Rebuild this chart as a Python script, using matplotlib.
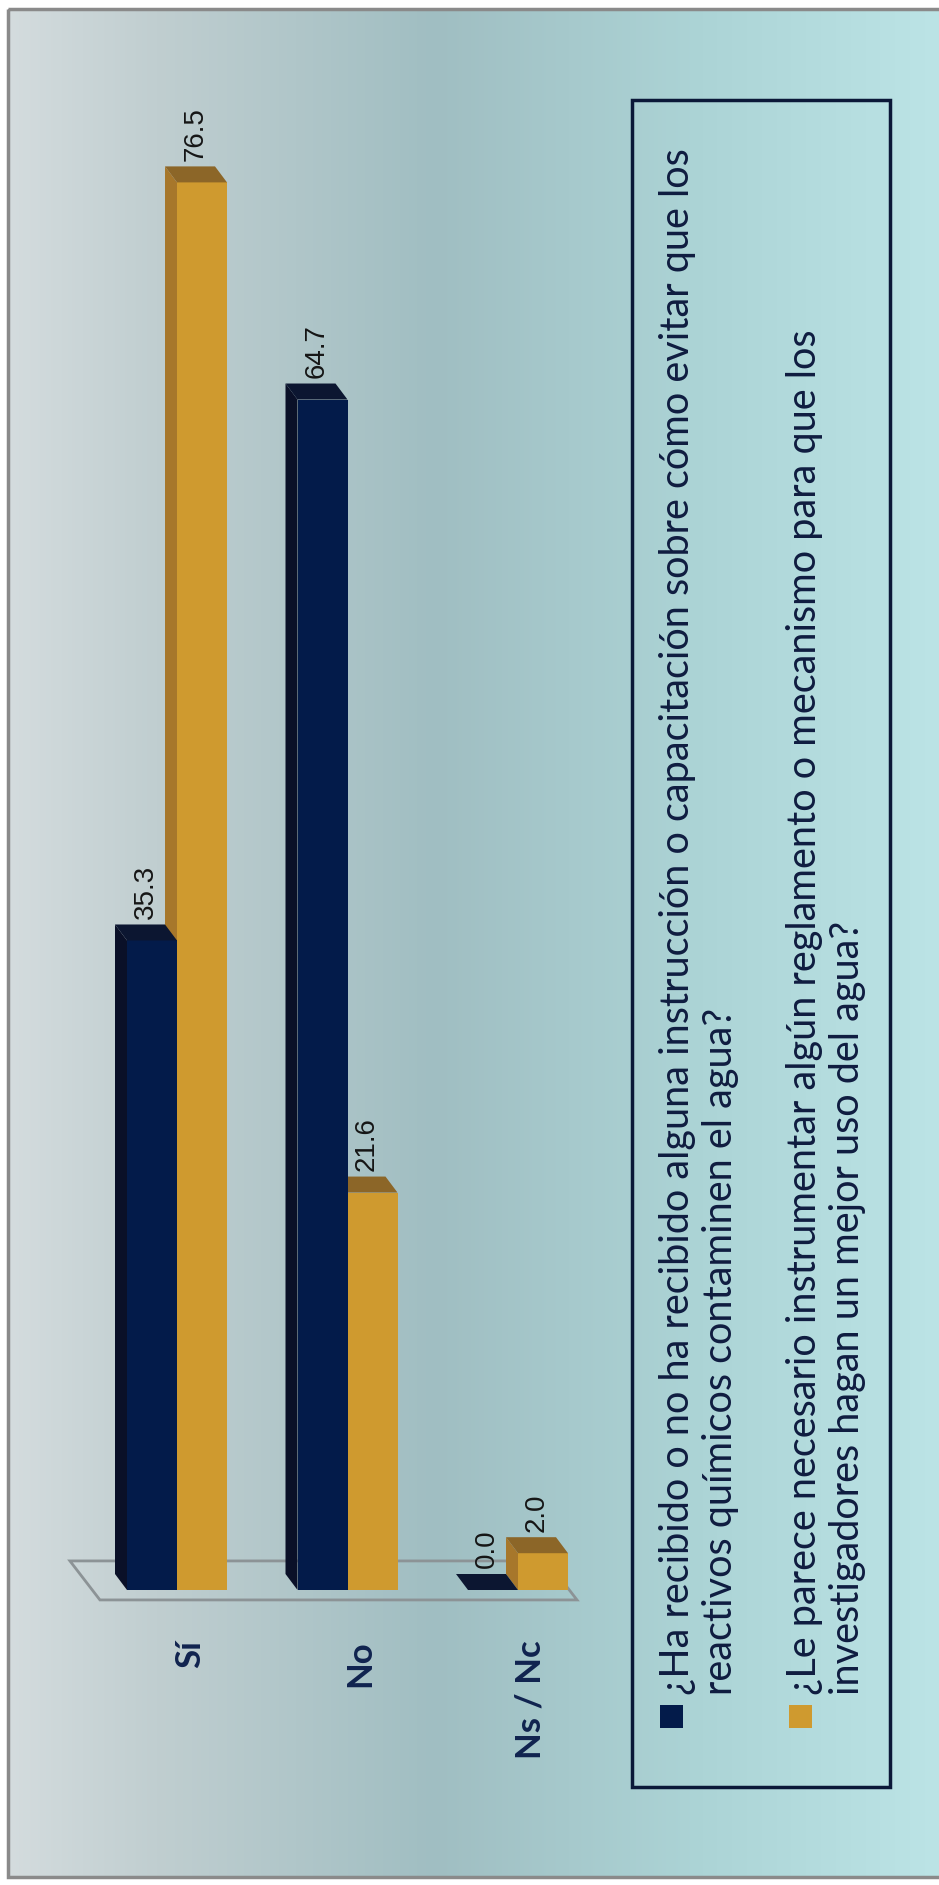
import numpy as np
import matplotlib.pyplot as plt
from matplotlib.patches import Polygon, Rectangle

# respuestas por categoria (%)
categorias = ['Sí', 'No', 'Ns / Nc']
capacitacion = [35.3, 64.7, 0.0]
reglamento = [76.5, 21.6, 2.0]
leyenda = [
    '¿Ha recibido o no ha recibido alguna instrucción o capacitación sobre cómo evitar que los\n'
    'reactivos químicos contaminen el agua?',
    '¿Le parece necesario instrumentar algún reglamento o mecanismo para que los\n'
    'investigadores hagan un mejor uso del agua?',
]

# colores: frente, lado, tapa
azul = ('#031b4a', '#0a1028', '#0c1631')
ocre = ('#cf9a2f', '#a7772b', '#8c6628')

W, H = 939, 1885
fig = plt.figure(figsize=(W / 100, H / 100), dpi=100)

# fondo con degradado y marco (coordenadas en pixeles)
bg = fig.add_axes([0, 0, 1, 1])
bg.set_xlim(0, W)
bg.set_ylim(H, 0)
bg.axis('off')
xs = np.arange(W)
px = [0, 150, 430, 700, W]
grad = np.stack([
    np.interp(xs, px, [212, 192, 160, 172, 188]),
    np.interp(xs, px, [220, 206, 190, 212, 228]),
    np.interp(xs, px, [222, 208, 194, 214, 230]),
], axis=-1)[None, :, :] / 255
bg.imshow(grad, extent=[8, W, 1877, 9], aspect='auto', zorder=0)
bg.add_patch(Rectangle((8, 9), W, 1868, fill=False, ec='#8a8a8a', lw=2.5, zorder=1))

# leyenda girada
bg.add_patch(Rectangle((632, 100), 258, 1687, fill=False, ec='#0b1838', lw=2.5, zorder=2))
for xc, xq, txt, col in [(699, 660, leyenda[0], azul[0]), (826, 789, leyenda[1], ocre[0])]:
    bg.add_patch(Rectangle((xq, 1705), 23, 23, fc=col, ec='none', zorder=2))
    bg.text(xc, 1695, txt, rotation=90, rotation_mode='anchor', ha='left', va='center',
            fontsize=28.5, linespacing=1.2, family='Lato', color='#0f1c40')

# ejes del grafico de barras
ax = fig.add_axes([0, 0, 1, 1])
ax.patch.set_alpha(0)
ax.axis('off')
ax.set_xlim(-177 / 170.5, (W - 177) / 170.5)
ax.set_ylim(-(H - 1590) / 18.4, 1590 / 18.4)

ANCHO = 50 / 170.5
DX, DY = -12 / 170.5, 16 / 18.4

# piso
ax.add_patch(Polygon([(-0.628, 1.58), (2.17, 1.58), (2.346, -0.54), (-0.452, -0.54)],
                     closed=True, fill=False, ec='#8c9396', lw=2, zorder=1))


def barra3d(x0, h, col, z):
    ax.bar(x0, h, width=ANCHO, align='edge', color=col[0], zorder=z)
    ax.add_patch(Polygon([(x0, 0), (x0, h), (x0 + DX, h + DY), (x0 + DX, DY)],
                         closed=True, fc=col[1], ec='none', zorder=z))
    ax.add_patch(Polygon([(x0, h), (x0 + ANCHO, h), (x0 + ANCHO + DX, h + DY), (x0 + DX, h + DY)],
                         closed=True, fc=col[2], ec='none', zorder=z))
    ax.text(x0 + ANCHO / 2 + DX / 2, h + DY + 0.3, f'{h:.1f}', rotation=90,
            ha='center', va='bottom', fontsize=20, family='Liberation Sans', color='#151515', zorder=10)


for i in range(len(categorias)):
    barra3d(i, reglamento[i], ocre, 3)
    barra3d(i - ANCHO, capacitacion[i], azul, 4)
    ax.text(i + 0.076, -2.72, categorias[i], rotation=90, ha='center', va='top',
            fontsize=25, fontweight='bold', family='Lato', color='#10234f')

fig.savefig('out.png', dpi=100)
